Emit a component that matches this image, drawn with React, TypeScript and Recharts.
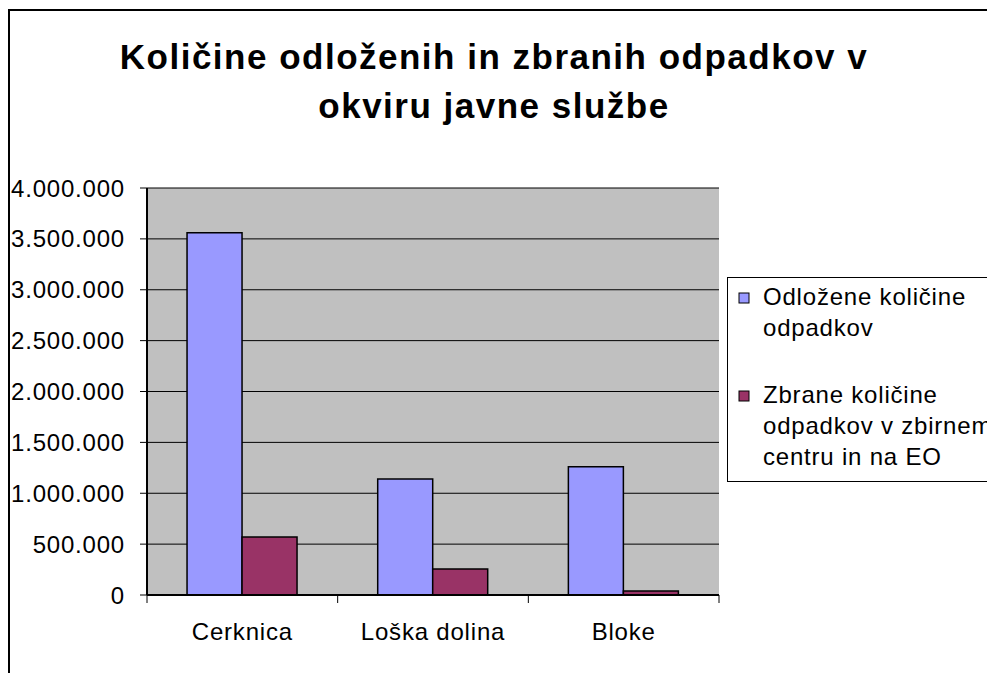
import React from 'react';
import {
  BarChart,
  Bar,
  XAxis,
  YAxis,
  CartesianGrid,
  Legend,
} from 'recharts';

const categories = ['Cerknica', 'Loška dolina', 'Bloke'];
const odlozene = [3560000, 1140000, 1260000];
const zbrane = [570000, 255000, 40000];
const yTicks = [0, 500000, 1000000, 1500000, 2000000, 2500000, 3000000, 3500000, 4000000];
const titleLines = ['Količine odloženih in zbranih odpadkov v', 'okviru javne službe'];
const legendLines = [
  ['Odložene količine', 'odpadkov'],
  ['Zbrane količine', 'odpadkov v zbirnem', 'centru in na EO'],
];

const data = categories.map((name, i) => ({
  name,
  odlozene: odlozene[i],
  zbrane: zbrane[i],
}));

const FONT = '"Liberation Sans", Arial, sans-serif';
const W = 987;
const H = 673;
const PLOT_LEFT = 147;
const PLOT_RIGHT = 719;
const BAND = (PLOT_RIGHT - PLOT_LEFT) / categories.length;

const fmt = (v: number) => String(v).replace(/\B(?=(\d{3})+(?!\d))/g, '.');

function CategoryTick(props: any) {
  const { x, y, payload, index } = props;
  const last = index === categories.length - 1;
  return (
    <g>
      <line x1={x - BAND / 2} x2={x - BAND / 2} y1={y - 8} y2={y} stroke="#000" />
      {last && <line x1={x + BAND / 2} x2={x + BAND / 2} y1={y - 8} y2={y} stroke="#000" />}
      <text
        x={x}
        y={y + 37}
        textAnchor="middle"
        fill="#000"
        fontSize={24}
        letterSpacing={0.8}
        fontFamily={FONT}
      >
        {payload.value}
      </text>
    </g>
  );
}

function LegendBox(props: any) {
  const items = props.payload || [];
  const starts = [28, 126];
  return (
    <svg width={300} height={205} style={{ display: 'block' }}>
      <rect x={0.5} y={0.5} width={299} height={204} fill="#fff" stroke="#000" />
      {items.map((item: any, i: number) => (
        <g key={i}>
          <rect
            x={12}
            y={starts[i] - 12}
            width={10}
            height={10}
            fill={item.color}
            stroke="#000"
          />
          {legendLines[i].map((line, j) => (
            <text
              key={j}
              x={36}
              y={starts[i] + j * 31}
              fontSize={24}
              letterSpacing={0.8}
              fontFamily={FONT}
              fill="#000"
            >
              {line}
            </text>
          ))}
        </g>
      ))}
    </svg>
  );
}

export default function App() {
  return (
    <div
      style={{
        position: 'absolute',
        left: 0,
        top: 0,
        width: W,
        height: H,
        overflow: 'hidden',
        background: '#fff',
      }}
    >
      <div
        style={{
          position: 'absolute',
          left: 8,
          top: 9,
          width: 1200,
          height: 1000,
          borderLeft: '2px solid #000',
          borderTop: '2px solid #000',
        }}
      />
      <svg width={W} height={150} style={{ position: 'absolute', left: 0, top: 0 }}>
        {titleLines.map((t, i) => (
          <text
            key={i}
            x={494}
            y={69 + i * 49}
            textAnchor="middle"
            fontSize={35}
            fontWeight="bold"
            letterSpacing={1.5}
            fontFamily={FONT}
            fill="#000"
          >
            {t}
          </text>
        ))}
      </svg>
      <div style={{ position: 'absolute', left: 0, top: 0 }}>
        <BarChart
          width={W}
          height={H}
          data={data}
          margin={{ top: 188, right: W - PLOT_RIGHT, bottom: 38, left: 0 }}
          barCategoryGap="21%"
          barGap={0}
        >
          <CartesianGrid vertical={false} stroke="#000" fill="#C0C0C0" />
          <XAxis
            dataKey="name"
            height={40}
            interval={0}
            tickSize={8}
            tickMargin={0}
            tickLine={false}
            axisLine={{ stroke: '#000', strokeWidth: 2 }}
            tick={<CategoryTick />}
          />
          <XAxis
            xAxisId="top"
            dataKey="name"
            orientation="top"
            height={0}
            tick={false}
            tickLine={false}
            axisLine={{ stroke: '#808080', strokeWidth: 2 }}
          />
          <YAxis
            width={PLOT_LEFT}
            domain={[0, 4000000]}
            ticks={yTicks}
            interval={0}
            tickSize={7}
            tickMargin={15}
            tickFormatter={fmt}
            axisLine={{ stroke: '#000', strokeWidth: 2 }}
            tickLine={{ stroke: '#000' }}
            tick={{ fill: '#000', fontSize: 24, fontFamily: FONT, letterSpacing: 0.8 }}
          />
          <YAxis
            yAxisId="right"
            orientation="right"
            width={0}
            tick={false}
            tickLine={false}
            axisLine={{ stroke: '#808080', strokeWidth: 2 }}
          />
          <Legend
            layout="horizontal"
            verticalAlign="middle"
            align="center"
            wrapperStyle={{ left: 727, top: 277, width: 300, height: 205 }}
            content={<LegendBox />}
          />
          <Bar
            dataKey="odlozene"
            name={legendLines[0].join(' ')}
            fill="#9999FF"
            stroke="#000"
            strokeWidth={1.5}
            isAnimationActive={false}
          />
          <Bar
            dataKey="zbrane"
            name={legendLines[1].join(' ')}
            fill="#993366"
            stroke="#000"
            strokeWidth={1.5}
            isAnimationActive={false}
          />
        </BarChart>
      </div>
    </div>
  );
}
